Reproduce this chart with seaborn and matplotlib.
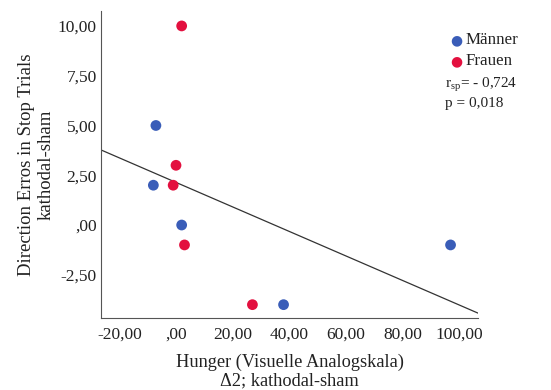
import numpy as np
import pandas as pd
import matplotlib
matplotlib.use("Agg")
import matplotlib.pyplot as plt
import seaborn as sns

# Hunger VAS difference (Δ2, kathodal-sham) vs. direction errors in stop trials
hunger_maenner = [-7.1, -8.0, 2.0, 97.0, 38.0]
errors_maenner = [5.0, 2.0, 0.0, -1.0, -4.0]
hunger_frauen = [2.0, 0.0, -1.0, 3.0, 27.0]
errors_frauen = [10.0, 3.0, 2.0, -1.0, -4.0]
groups = ["Männer", "Frauen"]
x_ticks = [-20, 0, 20, 40, 60, 80, 100]
y_ticks = [-2.5, 0, 2.5, 5, 7.5, 10]

df = pd.DataFrame({
    "hunger": hunger_maenner + hunger_frauen,
    "errors": errors_maenner + errors_frauen,
    "gruppe": [groups[0]] * len(hunger_maenner) + [groups[1]] * len(hunger_frauen),
})

sns.set_theme(style="white")
plt.rcParams["font.family"] = ["Liberation Serif", "DejaVu Serif"]

fig = plt.figure(figsize=(5.51, 3.90), dpi=100)
ax = fig.add_axes([101 / 551, 1 - 318 / 390, (478 - 101) / 551, (318 - 11) / 390])
ax.set_xlim(-26.5, 106.7)
ax.set_ylim(-4.67, 10.75)

sns.scatterplot(data=df, x="hunger", y="errors", hue="gruppe", hue_order=groups,
                palette=["#3A5DB8", "#E3103F"], s=60, edgecolor="none",
                legend=False, ax=ax, zorder=3)
sns.regplot(data=df, x="hunger", y="errors", scatter=False, ci=None, truncate=False,
            line_kws={"color": "#333333", "lw": 0.9}, ax=ax)
ax.set_xlim(-26.5, 106.7)
ax.set_ylim(-4.67, 10.75)

def fmt(v):
    s = f"{v:.2f}".replace(".", ",")
    if s.startswith("0,"):
        s = s[1:]
    if s.startswith("-0,"):
        s = "-" + s[2:]
    return s

ax.set_xticks(x_ticks)
ax.set_xticklabels([fmt(v) for v in x_ticks], fontsize=12.5)
ax.set_yticks(y_ticks)
ax.set_yticklabels([fmt(v) for v in y_ticks], fontsize=12.5)
ax.tick_params(axis="x", length=0, pad=6, colors="#222222")
ax.tick_params(axis="y", length=0, pad=3, colors="#222222")

for side in ["top", "right"]:
    ax.spines[side].set_visible(False)
for side in ["left", "bottom"]:
    ax.spines[side].set_color("#555555")
    ax.spines[side].set_linewidth(0.8)

ax.set_xlabel("Hunger (Visuelle Analogskala)\nΔ2; kathodal-sham", fontsize=13.2,
              labelpad=8, linespacing=1.1, color="#222222")
ax.set_ylabel("Direction Erros in Stop Trials\nkathodal-sham", fontsize=13.5,
              labelpad=2, linespacing=1.2, color="#222222")

# legend and correlation annotation
colors = {"Männer": "#3A5DB8", "Frauen": "#E3103F"}
for i, g in enumerate(groups):
    yp = 40.5 + i * 20.5
    fig.text(456 / 551, 1 - yp / 390, "●", color=colors[g], fontsize=10,
             ha="center", va="center", family="DejaVu Sans")
    fig.text(466 / 551, 1 - yp / 390, g, fontsize=12.2, ha="left", va="center",
             color="#222222")
fig.text(445 / 551, 1 - 85 / 390, r"r$_{\mathregular{sp}}$= - 0,724", fontsize=11,
         ha="left", va="center", color="#222222")
fig.text(445 / 551, 1 - 104 / 390, "p = 0,018", fontsize=11, ha="left",
         va="center", color="#222222")

fig.savefig("out.png", dpi=100)
